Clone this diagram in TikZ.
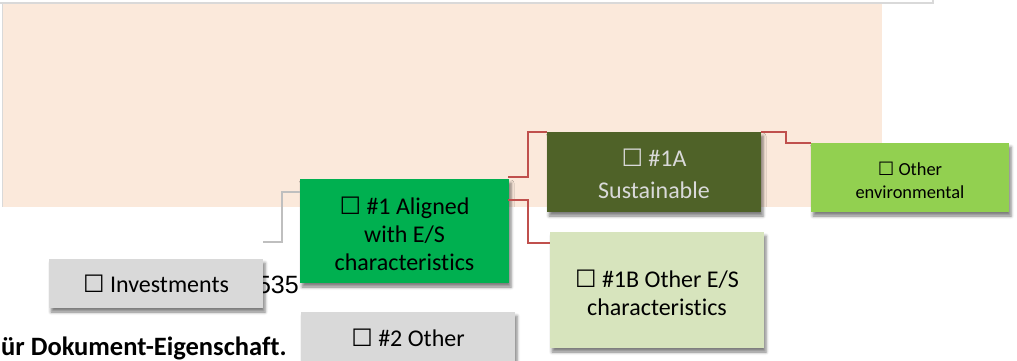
\documentclass[tikz,border=0pt]{standalone}
\usepackage{fontspec}
\setmainfont{Carlito}[Ligatures=CommonOff]
\newfontfamily\symfont{DejaVu Sans}
\newfontfamily\arialfont{Liberation Sans}
\usetikzlibrary{calc,shadows.blur}
\definecolor{peach}{HTML}{FBE9DB}
\definecolor{boxgrey}{HTML}{D9D9D9}
\definecolor{aligned}{HTML}{00B050}
\definecolor{olive}{HTML}{4F6228}
\definecolor{pale}{HTML}{D7E4BD}
\definecolor{envgreen}{HTML}{92D050}
\definecolor{redline}{HTML}{C0504D}
\definecolor{greyline}{HTML}{BFBFBF}
\definecolor{lighttext}{HTML}{D9D9D9}
\newcommand\ballot{{\symfont\char"2610}}
\newcommand\topstrut[1]{\rule{0pt}{#1}}
\begin{document}
\begin{tikzpicture}[x=1pt,y=-1pt,
  box/.style={rectangle, inner sep=0pt, align=center,
    blur shadow={shadow xshift=2pt, shadow yshift=-4pt, shadow blur radius=3pt, shadow opacity=50}},
  bigtext/.style={font=\fontsize{24}{28}\selectfont},
  smalltext/.style={font=\fontsize{18.4}{23}\selectfont},
  redconn/.style={draw=redline, line width=1.5pt},
  greyconn/.style={draw=greyline, line width=1.5pt}]
\useasboundingbox (0,0) rectangle (1017,360);
\clip (0,0) rectangle (1017,360);
% background band
\fill[peach] (2,4) rectangle (882,207);
\draw[gray!30, line width=0.8pt] (2.5,4) -- (2.5,207);
\draw[boxgrey, line width=2pt] (0,3) -- (933,3) -- (933,0);
% stray texts
\node[anchor=base east, inner sep=0pt, font=\arialfont\fontsize{25}{28}\selectfont] (num) at (299,293) {535};
\node[anchor=base west, inner sep=0pt, font=\bfseries\fontsize{26.5}{30}\selectfont] (prop) at (1,355) {ür Dokument-Eigenschaft.};
% boxes
\node[box, bigtext, fill=boxgrey, minimum width=214pt, minimum height=49pt] (inv) at (156,283.5) {\topstrut{19pt}\ballot{} Investments};
\node[box, bigtext, fill=aligned, minimum width=209pt, minimum height=104pt] (n1) at (404.5,231) {\topstrut{23pt}\ballot{} \#1 Aligned\\with E/S\\characteristics};
\node[box, bigtext, fill=boxgrey, minimum width=214pt, minimum height=50pt] (n2) at (408,337) {\topstrut{19pt}\ballot{} \#2 Other};
\node[box, bigtext, fill=olive, text=lighttext, minimum width=214pt, minimum height=80pt] (n1a) at (654,172) {\topstrut{21pt}\ballot{} \#1A\\[4pt]Sustainable};
\node[box, bigtext, fill=pale, minimum width=214pt, minimum height=116pt] (n1b) at (657,290) {\topstrut{23pt}\ballot{} \#1B Other E/S\\characteristics};
\node[box, smalltext, fill=envgreen, minimum width=198pt, minimum height=69pt] (env) at (910,177.5) {\topstrut{20pt}\ballot{} Other\\environmental};
% connectors
\coordinate (g0) at (263,242);
\draw[greyconn] (g0) -- ++(19,0) |- ($(n1.north west)+(0,13)$);
\draw[redconn] ($(n1.north east)+(-1,-2)$) -- ++(20,0) |- (n1a.north west);
\draw[redconn] ($(n1.north east)+(-1,21)$) -- ++(20,0) |- ($(n1b.north west)+(0,11)$);
\draw[redconn] (n1a.north east) -- ++(25,0) |- (env.north west);
\end{tikzpicture}
\end{document}
